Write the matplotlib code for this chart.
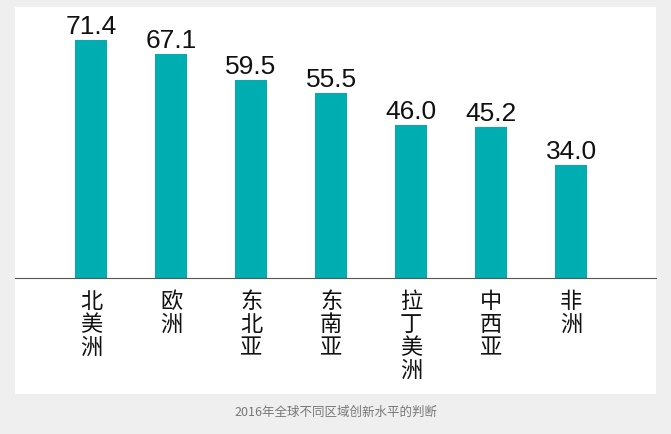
import matplotlib
matplotlib.use("Agg")
import matplotlib.pyplot as plt

plt.rcParams['font.family'] = ['Noto Sans CJK SC', 'DejaVu Sans']

regions = ["北美洲", "欧洲", "东北亚", "东南亚", "拉丁美洲", "中西亚", "非洲"]
values = [71.4, 67.1, 59.5, 55.5, 46.0, 45.2, 34.0]
caption = "2016年全球不同区域创新水平的判断"

W, H = 671, 435
fig = plt.figure(figsize=(W/100, H/100), dpi=100)
fig.patch.set_facecolor('#efefef')
bg = fig.add_axes([15/W, 1-395/H, (656-15)/W, (395-8)/H], zorder=-1)
bg.set_facecolor('white')
bg.set_xticks([]); bg.set_yticks([])
for s in bg.spines.values():
    s.set_visible(False)

ax = fig.add_axes([15/W, 1-279/H, (656-15)/W, (279-8)/H])
ax.set_facecolor('none')
x = list(range(len(regions)))
ax.bar(x, values, width=0.4, color='#00adb1')
ax.set_xlim(-0.95, 7.06)
ax.set_ylim(0, 71.4*271/238)
for s in ['top', 'right', 'left']:
    ax.spines[s].set_visible(False)
ax.spines['bottom'].set_color('#555555')
ax.set_yticks([])
ax.set_xticks(x)
ax.set_xticklabels(["\n".join(r) for r in regions], fontsize=16, linespacing=1.0, va='top',
                   fontweight='medium', color='#111111')
ax.tick_params(axis='x', length=0, pad=8)
for xi, v in zip(x, values):
    ax.text(xi, v + 0.6, f"{v:.1f}", ha='center', va='bottom', fontsize=19, color='#111111',
            family='Liberation Sans')

fig.text(0.5, 1-412/H, caption, ha='center', va='center', fontsize=9, color='#777777')
fig.savefig("out.png", dpi=100, facecolor=fig.get_facecolor())
